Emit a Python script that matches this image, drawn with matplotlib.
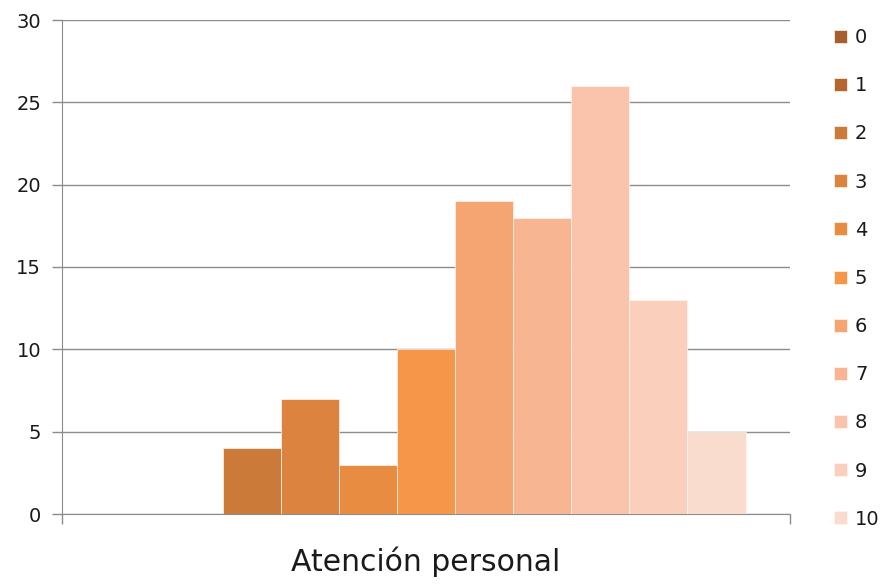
import matplotlib.pyplot as plt
import numpy as np

# Data
category = 'Atención personal'
series = ['0', '1', '2', '3', '4', '5', '6', '7', '8', '9', '10']
values = [0, 0, 4, 7, 3, 10, 19, 18, 26, 13, 5]
colors = ['#A65E2E', '#B5652E', '#CB7A39', '#DB833F', '#E88C42', '#F59648',
          '#F5A572', '#F8B591', '#F9C4AB', '#FAD0BC', '#FADCCF']

plt.rcParams['font.family'] = ['DejaVu Sans']

fig = plt.figure(figsize=(8.89, 5.85), dpi=100)
ax = fig.add_axes([62 / 889, 71 / 585, 728 / 889, 494 / 585])

n = len(series)
w = 1.0
for i, (s, v, c) in enumerate(zip(series, values, colors)):
    ax.bar((i - (n - 1) / 2) * w, v, width=w, color=c, label=s,
           edgecolor='#FFF5EE', linewidth=0.5, zorder=3)

ax.set_xlim(-6.265, 6.265)
ax.set_ylim(0, 30)
ax.set_yticks(np.arange(0, 31, 5))
ax.yaxis.grid(True, color='#8C8C8C', linewidth=1)
ax.set_axisbelow(True)
ax.set_xticks([-6.265, 6.265])
ax.set_xticklabels(['', ''])
ax.tick_params(axis='x', length=7, color='#8C8C8C', width=1)
ax.tick_params(axis='y', length=7, color='#8C8C8C', width=1, labelsize=14, pad=8,
               labelcolor='#1A1A1A')
for side in ['top', 'right']:
    ax.spines[side].set_visible(False)
for side in ['left', 'bottom']:
    ax.spines[side].set_color('#8C8C8C')
ax.text(0, -0.097, category, transform=ax.get_xaxis_transform(), ha='center',
        va='center', fontsize=21.5, color='#1A1A1A')

fig.legend(loc='upper left', bbox_to_anchor=(0.919, 0.982), frameon=False,
           fontsize=14, handlelength=0.65, handleheight=0.65, handletextpad=0.4,
           labelspacing=1.5, labelcolor='#1A1A1A')

plt.savefig('out.png', dpi=100)
